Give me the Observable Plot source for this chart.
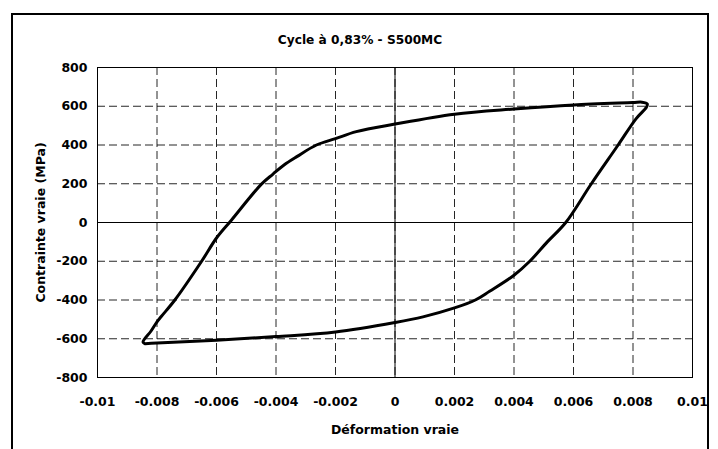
<!DOCTYPE html>
<html><head><meta charset="utf-8">
<script src="https://cdn.jsdelivr.net/npm/d3@7"></script>
<script src="https://cdn.jsdelivr.net/npm/@observablehq/plot@0.6"></script>
<style>
html,body{margin:0;padding:0;background:#fff;}
#wrap{position:relative;width:718px;height:449px;overflow:hidden;font-family:"DejaVu Sans",sans-serif;}
#frame{position:absolute;left:11px;top:13px;width:694px;height:480px;border:2px solid #000;}
#title{position:absolute;left:13px;width:694px;top:31px;text-align:center;font-weight:bold;font-size:12.2px;line-height:18px;color:#000;}
#chart{position:absolute;left:0;top:0;}
</style></head><body>
<div id="wrap"><div id="frame"></div><div id="title"></div><div id="chart"></div></div>
<script>
const title = "Cycle à 0,83% - S500MC";
const xLabel = "Déformation vraie";
const yLabel = "Contrainte vraie (MPa)";
const xTicks = [-0.01, -0.008, -0.006, -0.004, -0.002, 0, 0.002, 0.004, 0.006, 0.008, 0.01];
const yTicks = [-800, -600, -400, -200, 0, 200, 400, 600, 800];
const strain = [-0.0084, -0.00847, -0.0082, -0.008, -0.00785, -0.0074, -0.0065, -0.006, -0.0055, -0.00449, -0.0041, -0.00373, -0.0033, -0.00264, -0.002, -0.0013, 0, 0.002, 0.004, 0.006, 0.008, 0.0083, 0.00848, 0.00845, 0.0081, 0.0075, 0.0066, 0.00574, 0.00512, 0.00453, 0.004, 0.00318, 0.0027, 0.002, 0.00094, 0, -0.002, -0.004, -0.006, -0.008, -0.0084];
const stress = [-626, -617, -560, -513, -484, -400, -200, -80, 12, 198, 250, 297, 340, 400, 433, 469, 508, 559, 586, 607, 619, 621, 612, 595, 535, 400, 200, 0, -100, -200, -272, -355, -400, -441, -487, -516, -565, -589, -608, -622, -626];

document.getElementById("title").textContent = title;
const data = strain.map((x, i) => ({x, y: stress[i]}));
const fmt = d => String(d);
const gridStyle = {stroke: "#000", strokeOpacity: 0.85, strokeDasharray: "8,4", strokeWidth: 1};
const chart = Plot.plot({
  width: 718, height: 449,
  marginLeft: 97, marginRight: 26, marginTop: 67, marginBottom: 72,
  style: {fontFamily: '"DejaVu Sans", sans-serif', fontSize: "12.5px", fontWeight: "bold", background: "transparent", color: "#000"},
  x: {domain: [xTicks[0], xTicks[xTicks.length - 1]]},
  y: {domain: [yTicks[0], yTicks[yTicks.length - 1]]},
  marks: [
    Plot.gridX(xTicks, gridStyle),
    Plot.gridY(yTicks, gridStyle),
    Plot.ruleY([0], {stroke: "#000", strokeWidth: 1}),
    Plot.ruleX([0], {stroke: "#000", strokeWidth: 1}),
    Plot.frame({stroke: "#000"}),
    Plot.axisX(xTicks, {tickSize: 0, tickPadding: 20, tickFormat: fmt, label: null}),
    Plot.axisY(yTicks, {tickSize: 0, tickPadding: 10, tickFormat: fmt, label: null}),
    Plot.line(data, {x: "x", y: "y", stroke: "#000", strokeWidth: 3, strokeLinejoin: "round", strokeLinecap: "round", curve: "catmull-rom"}),
    Plot.text([xLabel], {text: d => d, frameAnchor: "bottom", dy: 52, textAnchor: "middle", lineAnchor: "middle", fontWeight: "bold", fontSize: 12.5}),
    Plot.text([yLabel], {text: d => d, frameAnchor: "left", dx: -57, rotate: -90, textAnchor: "middle", lineAnchor: "middle", fontWeight: "bold", fontSize: 12.5})
  ]
});
document.getElementById("chart").appendChild(chart);
</script>
</body></html>
